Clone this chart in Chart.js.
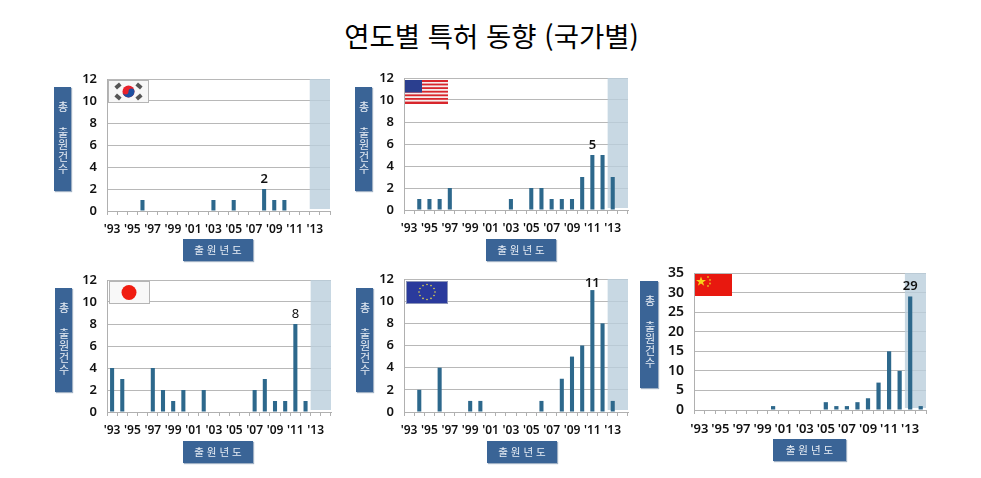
<!DOCTYPE html>
<html lang="ko">
<head>
<meta charset="utf-8">
<title>연도별 특허 동향 (국가별)</title>
<script src="https://cdn.jsdelivr.net/npm/chart.js@4"></script>
<style>
  html, body { margin: 0; padding: 0; background: #fff; }
  #page { position: relative; width: 981px; height: 478px; overflow: hidden; font-family: "Noto Sans CJK KR", "Noto Sans", sans-serif; }
  #title { position: absolute; left: 0; width: 983px; top: 16px; text-align: center; font-size: 27.5px; line-height: 38px; color: #000; }
  canvas { position: absolute; }
  .side, .bottom { position: absolute; background: #3a6496; color: #e8eef5; box-shadow: 1px 1px 1px #9fb0c4; box-sizing: border-box; }
  .side { writing-mode: vertical-rl; text-orientation: upright; white-space: pre; font-size: 11px; line-height: 16px; letter-spacing: 1.2px; padding-top: 14px; }
  .side span { margin-inline-end: 14px; }
  .bottom { font-size: 10.5px; text-align: center; line-height: 21px; white-space: pre; }
  .flag { position: absolute; }
</style>
</head>
<body>
<div id="page">
  <div id="title">연도별 특허 동향 (국가별)</div>
</div>
<script>
// One entry per year, '93 to '14
const years = ["'93","'94","'95","'96","'97","'98","'99","'00","'01","'02","'03","'04","'05","'06","'07","'08","'09","'10","'11","'12","'13","'14"];
const tickLabels = ["'93","'95","'97","'99","'01","'03","'05","'07","'09","'11","'13"];

const krValues = [0,0,0,1,0,0,0,0,0,0,1,0,1,0,0,2,1,1,0,0,0,0];
const usValues = [0,1,1,1,2,0,0,0,0,0,1,0,2,2,1,1,1,3,5,5,3,0];
const jpValues = [4,3,0,0,4,2,1,2,0,2,0,0,0,0,2,3,1,1,8,1,0,0];
const euValues = [0,2,0,4,0,0,1,1,0,0,0,0,0,1,0,3,5,6,11,8,1,0];
const cnValues = [0,0,0,0,0,0,0,1,0,0,0,0,2,1,1,2,3,7,15,10,29,1];

const sideFirst = '총';
const sideRest = '출원건수';
const bottomText = '출 원 년 도';

const flagKr = `<svg width="41" height="23"><rect x=".5" y=".5" width="40" height="22" fill="#f7f7f7" stroke="#b5b5b5"/>
  <g fill="#555"><rect x="7" y="4" width="6" height="4" transform="rotate(-40 10 6)"/><rect x="28" y="4" width="6" height="4" transform="rotate(40 31 6)"/><rect x="7" y="15" width="6" height="4" transform="rotate(40 10 17)"/><rect x="28" y="15" width="6" height="4" transform="rotate(-40 31 17)"/></g>
  <circle cx="20.5" cy="11.5" r="6" fill="#e8202a"/><path d="M14.5 11.5a6 6 0 0 0 12 0a3 3 0 0 0-6 0a3 3 0 0 1-6 0" fill="#1c4fa0"/></svg>`;
const flagUs = `<svg width="43" height="24"><rect width="43" height="24" fill="#f6eeee"/>
  <g fill="#d8262c"><rect y="0" width="43" height="2"/><rect y="3.6" width="43" height="1.8"/><rect y="7.2" width="43" height="1.8"/><rect y="10.8" width="43" height="1.8"/><rect y="14.4" width="43" height="1.8"/><rect y="18" width="43" height="1.8"/><rect y="21.6" width="43" height="2.4"/></g>
  <rect width="17" height="12.5" fill="#2b3f8f"/></svg>`;
const flagJp = `<svg width="41" height="23"><rect x=".5" y=".5" width="40" height="22" fill="#f8f8f8" stroke="#b5b5b5"/><circle cx="20" cy="11.5" r="7.5" fill="#f01c10"/></svg>`;
const euStars = [[21,3.5],[25,4.6],[28,7.5],[29,11],[28,14.5],[25,17.4],[21,18.5],[17,17.4],[14,14.5],[13,11],[14,7.5],[17,4.6]]
  .map(s => `<circle cx="${s[0]}" cy="${s[1]}" r=".8" fill="#e8d84a"/>`).join('');
const flagEu = `<svg width="42" height="23"><rect x=".5" y=".5" width="41" height="22" fill="#2a3a9c" stroke="#8a93b8"/>${euStars}</svg>`;
const flagCn = `<svg width="37" height="22"><rect width="37" height="22" fill="#e8180f"/><polygon points="6,2.5 7.3,6 11,6 8,8.2 9.2,11.8 6,9.6 2.8,11.8 4,8.2 1,6 4.7,6" fill="#f7d21a"/>
  <g fill="#e8b81a"><circle cx="13" cy="3" r=".9"/><circle cx="15" cy="6" r=".9"/><circle cx="15" cy="9.5" r=".9"/><circle cx="13" cy="12" r=".9"/></g></svg>`;

const panels = [
  { id:'kr', values:krValues, max:12, step:2, peakGap:10, plot:[107,79,223,132], side:[54,87,17,104], bottom:[183,239,70,22], flag:[108,80], svg:flagKr, font:13 },
  { id:'us', values:usValues, max:12, step:2, peakGap:10, plot:[404,78,224,132], side:[355,87,17,104], bottom:[486,239,70,22], flag:[405,80], svg:flagUs, font:13 },
  { id:'jp', values:jpValues, max:12, step:2, peakGap:10, plot:[107,280,224,132], side:[55,288,17,104], bottom:[183,441,70,22], flag:[109,281], svg:flagJp, font:13, peakWeight:'normal' },
  { id:'eu', values:euValues, max:12, step:2, peakGap:7, plot:[404,279,224,133], side:[356,288,17,104], bottom:[487,441,70,22], flag:[406,281], svg:flagEu, font:13 },
  { id:'cn', values:cnValues, max:35, step:5, peakGap:10, plot:[694,273,232,137], side:[640,281,18,107], bottom:[773,439,73,22], flag:[695,274], svg:flagCn, font:14 },
];

// shaded years at the right side, drawn under the bars
const shadePlugin = {
  id: 'shade',
  beforeDatasetsDraw(chart){
    const {ctx, chartArea, scales} = chart;
    const left = (scales.x.getPixelForValue(19) + scales.x.getPixelForValue(20)) / 2;
    ctx.save();
    ctx.fillStyle = 'rgba(186,206,220,0.8)';
    ctx.fillRect(left, chartArea.top, chartArea.right - left, chartArea.height - 2);
    ctx.restore();
  }
};

// number above the tallest bar only
const peakPlugin = {
  id: 'peak',
  afterDatasetsDraw(chart, args, opts){
    const values = chart.data.datasets[0].data;
    const i = values.indexOf(Math.max(...values));
    const {ctx, scales} = chart;
    ctx.save();
    ctx.fillStyle = '#111';
    ctx.textAlign = 'center';
    ctx.textBaseline = 'middle';
    ctx.font = `${opts.weight} 13px "Noto Sans", sans-serif`;
    ctx.fillText(String(values[i]), scales.x.getPixelForValue(i), scales.y.getPixelForValue(values[i]) - opts.gap);
    ctx.restore();
  }
};

function addBox(cls, rect){
  const d = document.createElement('div');
  d.className = cls;
  d.style.cssText = `left:${rect[0]}px;top:${rect[1]}px;width:${rect[2]}px;height:${rect[3]}px`;
  document.getElementById('page').appendChild(d);
  return d;
}

function drawPanel(p){
  const leftGutter = 40, topGutter = 8, rightGutter = 4, bottomGutter = 30;
  const c = document.createElement('canvas');
  c.width = p.plot[2] + leftGutter + rightGutter;
  c.height = p.plot[3] + topGutter + bottomGutter;
  c.style.left = (p.plot[0] - leftGutter) + 'px';
  c.style.top = (p.plot[1] - topGutter) + 'px';
  document.getElementById('page').appendChild(c);

  new Chart(c.getContext('2d'), {
    type: 'bar',
    data: {
      labels: years,
      datasets: [{ data: p.values, backgroundColor: '#2d688c', categoryPercentage: 1, barPercentage: 0.4 }]
    },
    options: {
      responsive: false,
      animation: false,
      layout: { padding: { top: 0, right: rightGutter, left: 0, bottom: 0 } },
      plugins: {
        legend: { display: false },
        tooltip: { enabled: false },
        peak: { weight: p.peakWeight || '600', gap: p.peakGap }
      },
      scales: {
        x: {
          grid: { drawOnChartArea: false, drawTicks: true, tickLength: 4, color: '#b0b0b0' },
          border: { color: '#b0b0b0' },
          afterFit(scale){ scale.height = bottomGutter; scale.paddingLeft = 0; scale.paddingRight = 0; },
          ticks: {
            autoSkip: false, maxRotation: 0, minRotation: 0, padding: 7,
            color: '#111',
            font: { family: '"Noto Sans", sans-serif', size: p.font - 1, weight: '600' },
            callback(value, index){ return tickLabels.includes(years[index]) ? years[index] : ''; }
          }
        },
        y: {
          min: 0, max: p.max,
          grid: { color: '#b8b8b8', drawTicks: false },
          border: { color: '#b0b0b0' },
          afterFit(scale){ scale.width = leftGutter; scale.paddingTop = topGutter; scale.paddingBottom = 0; },
          ticks: {
            autoSkip: false, stepSize: p.step, padding: 10,
            color: '#111',
            font: { family: '"Noto Sans", sans-serif', size: p.font, weight: '600' }
          }
        }
      }
    },
    plugins: [shadePlugin, peakPlugin]
  });

  const side = addBox('side', p.side);
  const first = document.createElement('span');
  first.textContent = sideFirst;
  side.appendChild(first);
  side.appendChild(document.createTextNode(sideRest));
  addBox('bottom', p.bottom).textContent = bottomText;
  const f = document.createElement('div');
  f.className = 'flag';
  f.style.cssText = `left:${p.flag[0]}px;top:${p.flag[1]}px`;
  f.innerHTML = p.svg;
  document.getElementById('page').appendChild(f);
}

panels.forEach(drawPanel);
</script>
</body>
</html>
